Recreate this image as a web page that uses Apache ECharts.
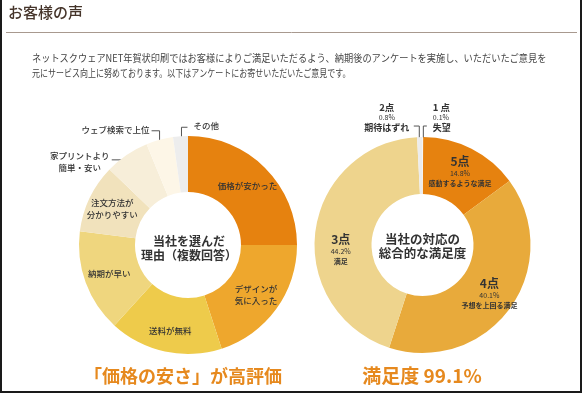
<!DOCTYPE html>
<html><head><meta charset="utf-8">
<script src="https://cdn.jsdelivr.net/npm/echarts@6/dist/echarts.min.js"></script>
<style>html,body{margin:0;padding:0;background:#fff}#c{width:583px;height:394px}</style>
</head><body><div id="c"></div>
<script>
const FONT = '"Noto Sans CJK JP","Noto Sans",sans-serif';
// Left donut: reasons for choosing (multiple answers)
const leftCategories = ['価格が安かった','デザインが\n気に入った','送料が無料','納期が早い','注文方法が\n分かりやすい','家プリントより\n簡単・安い','ウェブ検索で上位','その他'];
const leftValues = [25, 20, 16.8, 15.2, 10.2, 6.6, 4, 2.2];
const leftColors = ['#E6820F','#EEA72D','#EECB4B','#EFD67E','#F1E2BC','#F7EED9','#FDF6E7','#EDEDED'];
const leftOuter = [5, 6, 7];
// Right donut: overall satisfaction
const rightScores = ['1 点','5点','4点','3点','2点'];
const rightValues = [0.1, 14.8, 40.1, 44.2, 0.8];
const rightNotes = ['失望','感動するような満足','予想を上回る満足','満足','期待はずれ'];
const rightColors = ['#FFFFFF','#E6820F','#E8AA3B','#EED48D','#ECECEC'];
const rightOuter = [0, 4];

const TEXT = '#333';
const chart = echarts.init(document.getElementById('c'));

const leftData = leftCategories.map((n, i) => {
  const outer = leftOuter.includes(i);
  return {
    name: n, value: leftValues[i],
    itemStyle: { color: leftColors[i] },
    label: outer ? { position: 'outside', show: true } : { position: 'inside', show: true },
    labelLine: { show: outer }
  };
});
const rightData = rightScores.map((n, i) => {
  const outer = rightOuter.includes(i);
  return {
    name: n, value: rightValues[i],
    itemStyle: { color: rightColors[i] },
    label: outer ? { position: 'outside', show: true } : { position: 'inside', show: true },
    labelLine: { show: outer }
  };
});

function leftLayout(params) {
  const i = params.dataIndex;
  if (i === 2) return { dy: 4 };
  if (!leftOuter.includes(i) || !params.labelLinePoints) return {};
  const p = params.labelLinePoints[0];
  if (i === 5) {
    return { x: p[0] - 47, y: p[1] + 7, align: 'center', verticalAlign: 'middle',
      labelLinePoints: [[p[0] + 2, p[1] + 5], [p[0] - 6, p[1] + 5], [p[0] - 15, p[1] + 5]] };
  }
  if (i === 6) {
    return { x: p[0] - 10, y: p[1] - 10, align: 'right', verticalAlign: 'middle',
      labelLinePoints: [[p[0], p[1] + 3], [p[0], p[1] - 9], [p[0] - 8, p[1] - 9]] };
  }
  return { x: p[0] + 13, y: p[1] - 10, align: 'left', verticalAlign: 'middle',
    labelLinePoints: [[p[0] + 1, p[1] + 3], [p[0] + 1, p[1] - 9], [p[0] + 7, p[1] - 9]] };
}
function rightLayout(params) {
  const i = params.dataIndex;
  if (i === 3) return { dy: 15 };
  if (!rightOuter.includes(i) || !params.labelLinePoints) return {};
  const p = params.labelLinePoints[0];
  if (i === 4) {
    return { x: p[0] - 33, y: p[1] - 19, align: 'center', verticalAlign: 'middle',
      labelLinePoints: [[p[0] - 0.5, p[1] + 1], [p[0] - 0.5, p[1] - 11], [p[0] - 6, p[1] - 11]] };
  }
  return { x: p[0] + 10, y: p[1] - 19, align: 'left', verticalAlign: 'middle',
    labelLinePoints: [[p[0] + 0.5, p[1] + 1], [p[0] + 0.5, p[1] - 11], [p[0] + 4, p[1] - 11]] };
}

const option = {
  animation: false,
  textStyle: { fontFamily: FONT },
  series: [
    {
      type: 'pie', center: [188, 245], radius: [53, 109], startAngle: 90, clockwise: true,
      avoidLabelOverlap: false, silent: true,
      label: { color: TEXT, fontSize: 8.5, fontFamily: FONT, lineHeight: 12, fontWeight: 500, formatter: p => p.name },
      labelLine: { show: false, length: 8, length2: 8, lineStyle: { color: '#555', width: 1 } },
      labelLayout: leftLayout,
      data: leftData
    },
    {
      type: 'pie', center: [422.5, 245], radius: [51, 108], startAngle: 90, clockwise: true,
      avoidLabelOverlap: false, silent: true,
      label: {
        color: TEXT, fontFamily: FONT, align: 'center',
        formatter: p => `{s|${p.name}}\n{p|${p.value.toFixed(1)}%}\n{n|${rightNotes[p.dataIndex]}}`,
        rich: {
          s: { fontSize: 12, fontWeight: 'bold', color: TEXT, lineHeight: 15, fontFamily: FONT },
          p: { fontSize: 7, color: TEXT, lineHeight: 9, fontFamily: FONT },
          n: { fontSize: 7, fontWeight: 'bold', color: TEXT, lineHeight: 11, fontFamily: FONT }
        }
      },
      labelLine: { show: false, length: 8, length2: 8, lineStyle: { color: '#555', width: 1 } },
      labelLayout: rightLayout,
      data: rightData.map((d, i) => {
        if (rightOuter.includes(i)) {
          d.label.rich = {
            s: { fontSize: 9.5, fontWeight: 'bold', color: TEXT, lineHeight: 10, fontFamily: FONT },
            p: { fontSize: 7, color: TEXT, lineHeight: 10, fontFamily: FONT },
            n: { fontSize: 9, fontWeight: 'bold', color: TEXT, lineHeight: 11, fontFamily: FONT }
          };
          d.label.align = i === 4 ? 'center' : 'left';
        }
        return d;
      })
    }
  ],
  graphic: [
    { type: 'rect', silent: true, shape: { x: 1, y: -3, width: 580, height: 395 }, style: { fill: 'none', stroke: '#1a1a1a', lineWidth: 2 } },
    { type: 'text', left: 8, top: 5, style: { text: 'お客様の声', fontSize: 15, fontFamily: FONT, fill: '#45342a', fontWeight: 500 } },
    { type: 'line', shape: { x1: 6, y1: 32.5, x2: 577, y2: 32.5 }, style: { stroke: '#A8998F', lineWidth: 1 } },
    { type: 'text', x: 32, y: 58, scaleX: 0.92, style: { text: 'ネットスクウェアNET年賀状印刷ではお客様によりご満足いただるよう、納期後のアンケートを実施し、いただいたご意見を', fontSize: 10, fontFamily: FONT, fill: '#444', verticalAlign: 'middle' } },
    { type: 'text', x: 32, y: 73, scaleX: 0.8, style: { text: '元にサービス向上に努めております。以下はアンケートにお寄せいただいたご意見です。', fontSize: 10, fontFamily: FONT, fill: '#444', verticalAlign: 'middle' } },
    { type: 'text', x: 189, y: 248, style: { text: '当社を選んだ\n理由（複数回答）', fontSize: 12, lineHeight: 14, fontWeight: 'bold', fontFamily: FONT, fill: TEXT, align: 'center', verticalAlign: 'middle' } },
    { type: 'text', x: 422.5, y: 246.5, style: { text: '当社の対応の\n総合的な満足度', fontSize: 12.5, lineHeight: 14, fontWeight: 'bold', fontFamily: FONT, fill: TEXT, align: 'center', verticalAlign: 'middle' } },
    { type: 'text', x: 183, y: 376, style: { text: '「価格の安さ」が高評価', fontSize: 18, fontWeight: 'bold', fontFamily: FONT, fill: '#E6891E', align: 'center', verticalAlign: 'middle' } },
    { type: 'text', x: 422, y: 376, style: { text: '満足度 99.1%', fontSize: 19, fontWeight: 'bold', fontFamily: FONT, fill: '#E6891E', align: 'center', verticalAlign: 'middle' } }
  ]
};
chart.setOption(option);
</script></body></html>
